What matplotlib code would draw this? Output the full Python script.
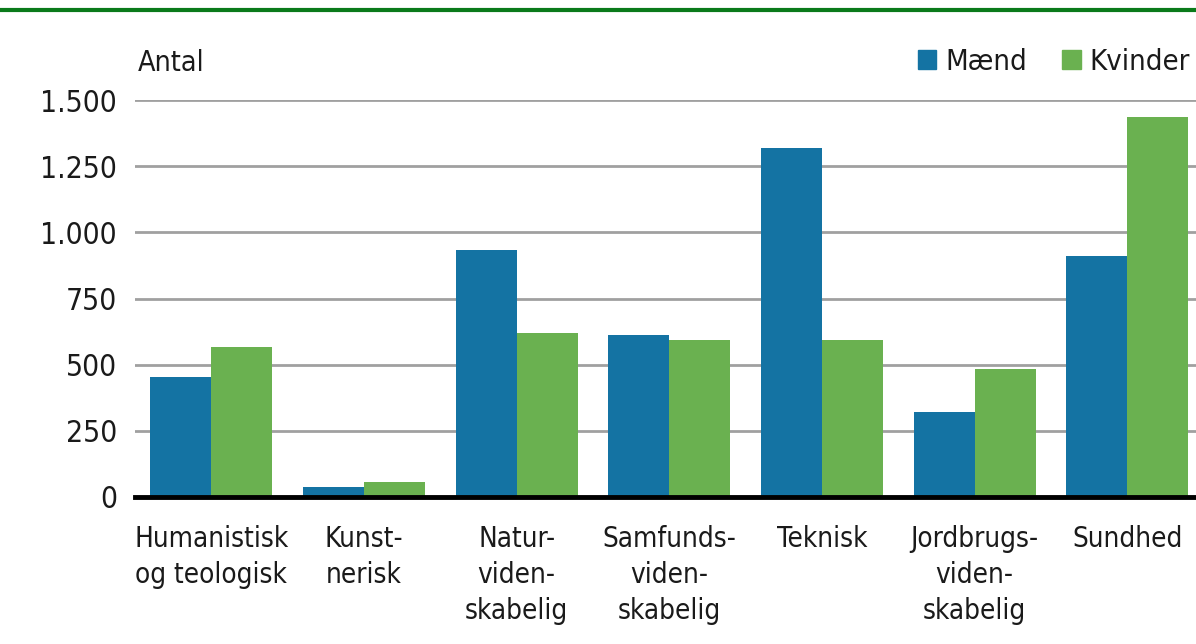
import matplotlib.pyplot as plt
from matplotlib.patches import Patch
from matplotlib.lines import Line2D
from matplotlib import font_manager
import numpy as np

# Data
categories = ["Humanistisk\nog teologisk", "Kunst-\nnerisk", "Natur-\nviden-\nskabelig",
              "Samfunds-\nviden-\nskabelig", "Teknisk", "Jordbrugs-\nviden-\nskabelig", "Sundhed"]
maend = [453, 38, 933, 612, 1318, 321, 910]
kvinder = [567, 57, 620, 593, 593, 484, 1435]
yticks = [0, 250, 500, 750, 1000, 1250, 1500]
ytick_labels = ["0", "250", "500", "750", "1.000", "1.250", "1.500"]

names = {f.name for f in font_manager.fontManager.ttflist}
font = "Liberation Sans Narrow" if "Liberation Sans Narrow" in names else "DejaVu Sans"
plt.rcParams['font.family'] = [font, 'DejaVu Sans']
plt.rcParams['font.stretch'] = 'condensed'

blue = '#1473A3'
green = '#6AB150'
txt = '#1a1a1a'

fig = plt.figure(figsize=(11.96, 6.44), dpi=100)
ax = fig.add_axes([135 / 1196, 1 - 497 / 644, 1 - 135 / 1196, (497 - 100) / 644])

x = np.arange(len(categories))
w = 0.4
ax.bar(x - w / 2, maend, width=w, color=blue, zorder=3)
ax.bar(x + w / 2, kvinder, width=w, color=green, zorder=3)

ax.set_ylim(0, 1500)
ax.set_xlim(-0.5, 6.45)
ax.set_yticks(yticks)
ax.set_yticklabels(ytick_labels, fontsize=21.5, color=txt)
ax.yaxis.grid(True, color='#a0a0a0', linewidth=2, zorder=0)
ax.set_axisbelow(True)
ax.tick_params(axis='y', length=0, pad=13)
ax.tick_params(axis='x', length=0, pad=20)
ax.set_xticks(x)
ax.set_xticklabels(categories, fontsize=20, color=txt, linespacing=1.38, va='top')
for s in ['top', 'right', 'left']:
    ax.spines[s].set_visible(False)
ax.spines['bottom'].set_linewidth(3.5)
ax.spines['bottom'].set_color('black')
ax.spines['bottom'].set_zorder(4)

fig.text(138 / 1196, 1 - 63 / 644, "Antal", fontsize=20.5, color=txt, va='center', ha='left')

handles = [Patch(color=blue, label='Mænd'), Patch(color=green, label='Kvinder')]
fig.legend(handles=handles, loc='center right', bbox_to_anchor=(1.017, 1 - 62 / 644),
           ncol=2, frameon=False, fontsize=21, handlelength=0.65, handleheight=0.65,
           handletextpad=0.3, columnspacing=1.2, labelcolor=txt)

fig.add_artist(Line2D([0.002, 1], [1 - 10 / 644, 1 - 10 / 644], color='#0a7a1a', linewidth=3))

fig.savefig('out.png', dpi=100)
